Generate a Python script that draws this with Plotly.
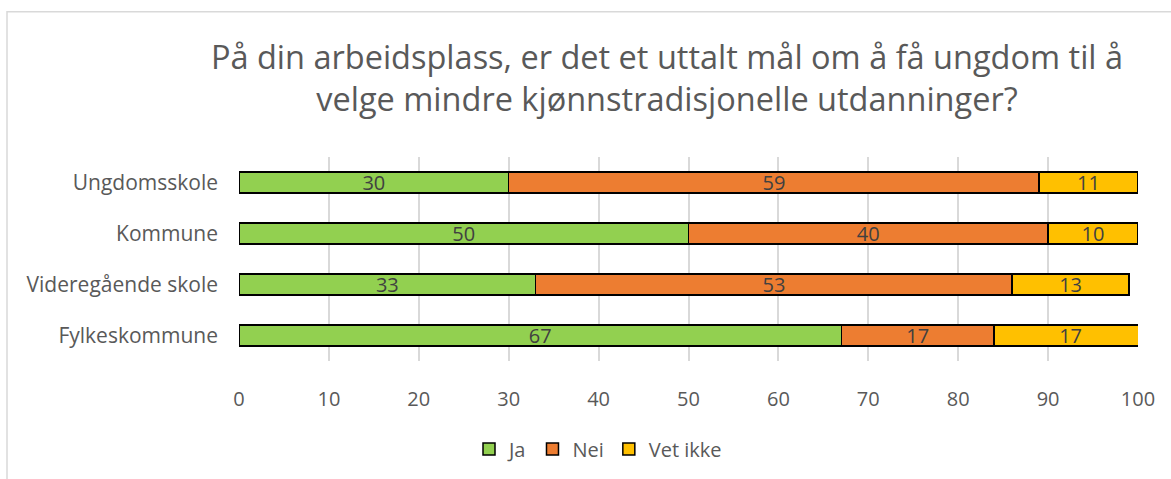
import plotly.graph_objects as go

categories = ["Ungdomsskole", "Kommune", "Videregående skole", "Fylkeskommune"]
ja = [30, 50, 33, 67]
nei = [59, 40, 53, 17]
vet_ikke = [11, 10, 13, 17]
x_ticks = [0, 10, 20, 30, 40, 50, 60, 70, 80, 90, 100]
title_text = "På din arbeidsplass, er det et uttalt mål om å få ungdom til å<br>velge mindre kjønnstradisjonelle utdanninger?"

FONT = "Open Sans"
FS = 20
W, H = 1171, 479
L, R, T, B = 239, 33, 157, 117
pw, ph = W - L - R, H - T - B

def px_x(x):
    return (x - L) / pw

def px_y(y):
    return (H - B - y) / ph

fig = go.Figure()
for name, vals, color in [("Ja", ja, "#92D050"), ("Nei", nei, "#ED7D31"), ("Vet ikke", vet_ikke, "#FFC000")]:
    fig.add_trace(go.Bar(
        y=categories, x=vals, name=name, orientation="h",
        marker=dict(color=color, line=dict(color="#000000", width=1.5)),
        text=vals, textposition="inside", insidetextanchor="middle",
        textfont=dict(family=FONT, size=FS, color="#404040"),
        textangle=0, constraintext="none",
    ))

fig.update_layout(
    width=W, height=H,
    barmode="stack", bargap=0.59,
    margin=dict(l=L, r=R, t=T, b=B),
    paper_bgcolor="white", plot_bgcolor="white",
    font=dict(family=FONT, color="#595959"),
    title=dict(text=title_text, x=px_x(667), xref="paper", xanchor="center",
               y=1 - 69 / H, yanchor="middle", yref="container",
               font=dict(family=FONT, size=32.5, color="#595959")),
    xaxis=dict(range=[0, 100], tickvals=x_ticks, showgrid=True, gridcolor="#D9D9D9", gridwidth=1.5,
               zeroline=False, showline=False, ticks="", tickfont=dict(family=FONT, size=FS, color="#595959"),
               ticklabelstandoff=24),
    yaxis=dict(categoryorder="array", categoryarray=categories, autorange="reversed",
               showgrid=False, zeroline=False, showline=False, ticks="",
               tickfont=dict(family=FONT, size=21, color="#595959"), ticklabelstandoff=20),
    legend=dict(orientation="h", x=px_x(598), xanchor="center", y=px_y(449), yanchor="middle",
                font=dict(family=FONT, size=FS, color="#595959"), traceorder="normal",
                itemwidth=30),
    shapes=[dict(type="rect", xref="paper", yref="paper",
                 x0=px_x(7), x1=px_x(1185), y0=px_y(495), y1=px_y(11),
                 line=dict(color="#D9D9D9", width=1.5), fillcolor="rgba(0,0,0,0)", layer="below")],
)

fig.write_html("out.html", config={"displayModeBar": False},
               post_script="document.body.style.margin='0px';")
